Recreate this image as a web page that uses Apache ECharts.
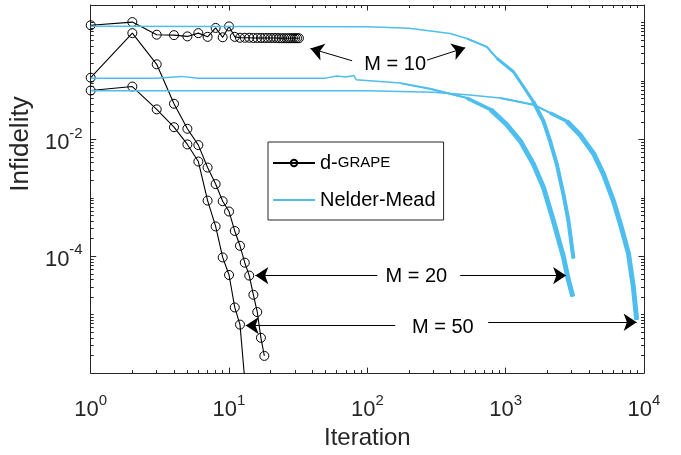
<!DOCTYPE html>
<html>
<head>
<meta charset="utf-8">
<script src="https://cdn.jsdelivr.net/npm/echarts@6/dist/echarts.min.js"></script>
<style>
  * { margin: 0; padding: 0; }
  #main { width: 681px; height: 455px; }
</style>
</head>
<body>
<div id="main"></div>
<script>
// d-GRAPE runs (black, circles)
var grapeIter10 = [1, 2, 3, 4, 5, 6, 7, 8, 9, 10, 11, 12, 13, 14, 15, 16, 17, 18, 19, 20, 21, 22, 23, 24, 25, 26, 27, 28, 29, 30, 31, 32];
var grapeInf10 = [0.90, 1.02, 0.62, 0.61, 0.58, 0.66, 0.57, 0.81, 0.56, 0.86, 0.57, 0.55, 0.55, 0.55, 0.545, 0.545, 0.545, 0.545, 0.545, 0.545, 0.545, 0.545,
                  0.54, 0.54, 0.54, 0.54, 0.54, 0.54, 0.54, 0.54, 0.54, 0.54];
var grapeIter20 = [1, 2, 3, 4, 5, 6, 7, 8, 9, 10, 11, 12, 13, 14, 15, 16, 17, 18];
var grapeInf20 = [0.114, 0.66, 0.193, 0.0408, 0.0152, 0.0080, 0.0033, 0.00172, 8.75e-4, 5.83e-4, 2.71e-4, 1.51e-4, 7.76e-5, 4.67e-5, 2.19e-5, 1.11e-5, 4.02e-6, 1.97e-6];
var grapeIter50 = [1, 2, 3, 4, 5, 6, 7, 8, 9, 10, 11, 12, 13];
var grapeInf50 = [0.0687, 0.0803, 0.0327, 0.0162, 0.0082, 0.00418, 8.97e-4, 3.24e-4, 9.55e-5, 4.78e-5, 1.33e-5, 6.76e-6, 7.5e-7];

// Nelder-Mead runs (blue)
var nmIter10 = [1, 10, 100, 200, 397, 525, 731, 865, 1138, 1345, 1580, 1876, 2095, 2342, 2614, 2840, 3090];
var nmInf10 = [0.862, 0.86, 0.845, 0.80, 0.648, 0.533, 0.384, 0.244, 0.144, 0.0804, 0.0447, 0.0205, 0.00936, 0.00376, 0.00116, 4.1e-4, 9.2e-5];
var nmIter20 = [1, 3, 4.5, 6, 50, 60, 70, 80, 82, 83, 173, 283, 525, 779, 1016, 1276, 1589, 1876, 2210, 2614, 2840, 3055];
var nmInf20 = [0.111, 0.111, 0.12, 0.111, 0.112, 0.122, 0.117, 0.124, 0.12, 0.105, 0.092, 0.0735, 0.051, 0.0323, 0.018, 0.00936, 0.00376, 0.00151, 4.1e-4, 9.8e-5, 3.93e-5, 2.05e-5];
var nmIter50 = [1, 100, 300, 525, 912, 1589, 2095, 2766, 3430, 4352, 5093, 6005, 6850, 7720, 8370, 8850];
var nmInf50 = [0.068, 0.068, 0.064, 0.058, 0.051, 0.0393, 0.0284, 0.0205, 0.0122, 0.00556, 0.00255, 8.95e-4, 3.16e-4, 1.12e-4, 3.03e-5, 8.2e-6];

// ticks
var xMajor = [1, 10, 100, 1000, 10000];
var yMajor = [1e-4, 1e-2];
var xMinor = [];
var yMinor = [];
for (var e = 0; e < 4; e++) {
    for (var m = 2; m <= 9; m++) xMinor.push(m * Math.pow(10, e));
}
for (var e = -6; e <= 0; e++) {
    if (e !== -4 && e !== -2 && e !== -6) yMinor.push(Math.pow(10, e));
    if (e < 0) {
        for (var m = 2; m <= 9; m++) yMinor.push(+(m * Math.pow(10, e)).toPrecision(3));
    }
}

function pairs(xs, ys) {
    return xs.map(function (x, i) { return [x, ys[i]]; });
}

var FONT = '"Liberation Sans", Arial, Helvetica, sans-serif';
var AX = '#262626';
var BLUE = '#4DBEEE';

var powLabel = {
    fontFamily: FONT,
    color: AX,
    rich: {
        b: { fontSize: 22, lineHeight: 22, fontFamily: FONT, color: AX, verticalAlign: 'bottom' },
        s: { fontSize: 15, lineHeight: 15, fontFamily: FONT, color: AX, verticalAlign: 'bottom', padding: [0, 0, 13, 0] }
    },
    formatter: function (v) {
        return '{b|10}{s|' + Math.round(Math.log10(v)) + '}';
    }
};

function xAx(pos, major, main) {
    var a = {
        type: 'log', logBase: 10, min: 1, max: 10000, position: pos,
        splitLine: { show: false },
        axisLine: { show: major, lineStyle: { color: AX, width: 1 } },
        axisTick: { show: true, inside: true, length: major ? 5.5 : 3, customValues: major ? xMajor : xMinor, lineStyle: { color: AX, width: 1 } },
        axisLabel: { show: false }
    };
    if (main) {
        a.axisLabel = Object.assign({ show: true, customValues: xMajor, margin: 26 }, powLabel);
        a.name = 'Iteration';
        a.nameLocation = 'middle';
        a.nameGap = 51;
        a.nameTextStyle = { fontSize: 24, fontFamily: FONT, color: AX };
    }
    return a;
}

function yAx(pos, major, main) {
    var a = {
        type: 'log', logBase: 10, min: 1e-6, max: 2, position: pos,
        splitLine: { show: false },
        axisLine: { show: major, lineStyle: { color: AX, width: 1 } },
        axisTick: { show: true, inside: true, length: major ? 5.5 : 3, customValues: major ? yMajor : yMinor, lineStyle: { color: AX, width: 1 } },
        axisLabel: { show: false }
    };
    if (main) {
        a.axisLabel = Object.assign({ show: true, customValues: yMajor, margin: 8, padding: [7, 0, 0, 0] }, powLabel);
        a.name = 'Infidelity';
        a.nameLocation = 'middle';
        a.nameGap = 33;
        a.nameTextStyle = { fontSize: 26, fontFamily: FONT, color: AX, padding: [0, 0, 0, 90] };
    }
    return a;
}

function grape(xs, ys, extra) {
    var s = {
        name: 'd-GRAPE', type: 'line', data: pairs(xs, ys),
        symbol: 'circle', symbolSize: 9, showAllSymbol: true,
        lineStyle: { color: '#000', width: 1.1 },
        itemStyle: { color: 'rgba(0,0,0,0)', borderColor: '#000', borderWidth: 1 },
        z: 2
    };
    return Object.assign(s, extra || {});
}

function nm(xs, ys, from, width) {
    return {
        name: 'Nelder-Mead', type: 'line', data: pairs(xs, ys).slice(from),
        symbol: 'none', showSymbol: false,
        lineStyle: { color: BLUE, width: width, cap: 'butt', join: 'round' },
        itemStyle: { color: BLUE },
        z: 3
    };
}

var arrowStyle = { color: '#000', width: 1, type: 'solid' };

var chart = echarts.init(document.getElementById('main'));
chart.setOption({
    animation: false,
    backgroundColor: '#fff',
    grid: { left: 90, right: 37, top: 5, bottom: 80 },
    xAxis: [xAx('bottom', true, true), xAx('bottom', false), xAx('top', true), xAx('top', false)],
    yAxis: [yAx('left', true, true), yAx('left', false), yAx('right', true), yAx('right', false)],
    legend: {
        data: [
            { name: 'd-GRAPE' },
            { name: 'Nelder-Mead', itemStyle: { opacity: 0 } }
        ],
        orient: 'vertical', left: 268, top: 142,
        itemWidth: 42, itemHeight: 8, itemGap: 15,
        padding: [10, 8, 9, 4],
        borderColor: AX, borderWidth: 1, backgroundColor: '#fff',
        textStyle: {
            fontFamily: FONT, fontSize: 20, color: '#000', lineHeight: 22,
            rich: {
                a: { fontFamily: FONT, fontSize: 20, color: '#000', lineHeight: 22 },
                c: { fontFamily: FONT, fontSize: 15, color: '#000', lineHeight: 22 }
            }
        },
        formatter: function (name) {
            return name === 'd-GRAPE' ? '{a|d-}{c|GRAPE}' : '{a|' + name + '}';
        }
    },
    series: [
        grape(grapeIter10, grapeInf10, {
            markLine: {
                silent: true, symbol: ['none', 'arrow'], symbolSize: 13,
                label: { show: false }, lineStyle: arrowStyle,
                data: [
                    [{ coord: [77.6, 0.222] }, { coord: [38.8, 0.361] }],
                    [{ coord: [270, 0.228] }, { coord: [510, 0.371] }],
                    [{ coord: [118, 4.67e-5] }, { coord: [15.5, 4.67e-5] }],
                    [{ coord: [469, 4.67e-5] }, { coord: [2735, 4.67e-5] }],
                    [{ coord: [159, 6.5e-6] }, { coord: [13.2, 6.5e-6] }],
                    [{ coord: [748, 7.43e-6] }, { coord: [8850, 7.43e-6] }]
                ]
            },
            markPoint: {
                silent: true, symbol: 'rect', symbolSize: 1,
                itemStyle: { color: 'rgba(0,0,0,0)' },
                label: { show: true, position: 'inside', formatter: '{b}', fontFamily: FONT, fontSize: 20, color: '#000' },
                data: [
                    { name: 'M = 10', coord: [159, 0.195] },
                    { name: 'M = 20', coord: [226, 4.54e-5] },
                    { name: 'M = 50', coord: [351, 5.94e-6] }
                ]
            }
        }),
        grape(grapeIter20, grapeInf20),
        grape(grapeIter50, grapeInf50),
        nm(nmIter10, nmInf10, 0, 1.5),
        nm(nmIter10, nmInf10, 5, 2),
        nm(nmIter10, nmInf10, 7, 3),
        nm(nmIter10, nmInf10, 10, 4),
        nm(nmIter20, nmInf20, 0, 1.5),
        nm(nmIter20, nmInf20, 10, 2),
        nm(nmIter20, nmInf20, 12, 3.5),
        nm(nmIter20, nmInf20, 13, 5),
        nm(nmIter50, nmInf50, 0, 1.5),
        nm(nmIter50, nmInf50, 4, 2),
        nm(nmIter50, nmInf50, 6, 3.5),
        nm(nmIter50, nmInf50, 7, 5)
    ]
});
</script>
</body>
</html>
